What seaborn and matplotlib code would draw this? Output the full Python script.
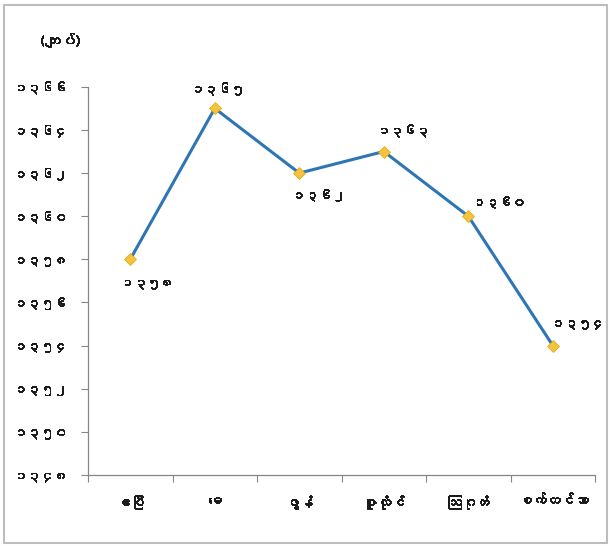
import numpy as np
import pandas as pd
import seaborn as sns
import matplotlib.pyplot as plt
import matplotlib as mpl
import matplotlib.patheffects as pe
from matplotlib import font_manager
from matplotlib.patches import Rectangle

# Data
months = ['ဧပြီ', 'မေ', 'ဇွန်', 'ဇူလိုင်', 'ဩဂုတ်', 'စက်တင်ဘာ']
prices = [1358, 1365, 1362, 1363, 1360, 1354]
yticks = [1348, 1350, 1352, 1354, 1356, 1358, 1360, 1362, 1364, 1366]
unit_label = '(ကျပ်)'

MM_DIGITS = str.maketrans('0123456789', '၀၁၂၃၄၅၆၇၈၉')


def mm(n):
    return str(n).translate(MM_DIGITS)


def find_myanmar_font():
    # look for any installed family that has Myanmar glyphs
    try:
        from fontTools.ttLib import TTFont
    except Exception:
        return None
    for f in font_manager.fontManager.ttflist:
        try:
            cmap = TTFont(f.fname, fontNumber=0, lazy=True).getBestCmap()
            if cmap and 0x1000 in cmap and 0x103A in cmap:
                return f.name
        except Exception:
            pass
    return None


sns.set_theme(style="white")
mm_font = find_myanmar_font()
families = ['DejaVu Sans'] if mm_font is None else [mm_font, 'DejaVu Sans']
plt.rcParams['font.family'] = families
plt.rcParams['axes.unicode_minus'] = False

# fake bold, the Myanmar font has only one weight
bold = [pe.withStroke(linewidth=0.7, foreground='#1a1a1a')]

df = pd.DataFrame({'month': months, 'price': prices})

fig = plt.figure(figsize=(6.11, 5.46), dpi=100)
ax = fig.add_axes([0.144, 0.130, 0.830, 0.711])

sns.lineplot(data=df, x='month', y='price', ax=ax, sort=False,
             color='#2e75b6', linewidth=2.2, marker='D', markersize=6,
             markerfacecolor='#f5c242', markeredgecolor='#e0a800',
             markeredgewidth=0.5)

ax.set_xlim(-0.5, len(months) - 0.5)
ax.set_ylim(yticks[0], yticks[-1])
ax.set_yticks(yticks)
ax.set_yticklabels([mm(v) for v in yticks], fontsize=9.5, color='#1a1a1a')
ax.set_xticks(range(len(months)))
ax.set_xticklabels(months, fontsize=10, color='#1a1a1a')
ax.set_xticks(np.arange(-0.5, len(months)), minor=True)
ax.tick_params(axis='x', which='major', length=0, pad=14)
ax.tick_params(axis='x', which='minor', bottom=True, length=5,
               color='#868686', width=0.8, direction='out')
ax.tick_params(axis='y', left=True, length=5, color='#868686', width=0.8,
               direction='out', pad=10)
for t in ax.get_xticklabels() + ax.get_yticklabels():
    t.set_path_effects(bold)
ax.set_xlabel('')
ax.set_ylabel('')
for s in ['top', 'right']:
    ax.spines[s].set_visible(False)
for s in ['left', 'bottom']:
    ax.spines[s].set_color('#868686')
    ax.spines[s].set_linewidth(0.9)

# data labels
offsets = [(12, -17), (2, 14), (14, -16), (14, 15), (22, 10), (18, 16)]
for i, (v, off) in enumerate(zip(prices, offsets)):
    ax.annotate(mm(v), (i, v), xytext=off, textcoords='offset points',
                ha='center', va='center', fontsize=9.5, color='#1a1a1a',
                path_effects=bold)

fig.text(0.098, 0.927, unit_label, ha='center', va='center',
         fontsize=10.5, color='#1a1a1a', path_effects=bold)

fig.patches.append(Rectangle((0.006, 0.006), 0.988, 0.984,
                             transform=fig.transFigure, fill=False,
                             edgecolor='#bdbdbd', linewidth=1.5))

fig.savefig('out.png', dpi=100, facecolor='white')
